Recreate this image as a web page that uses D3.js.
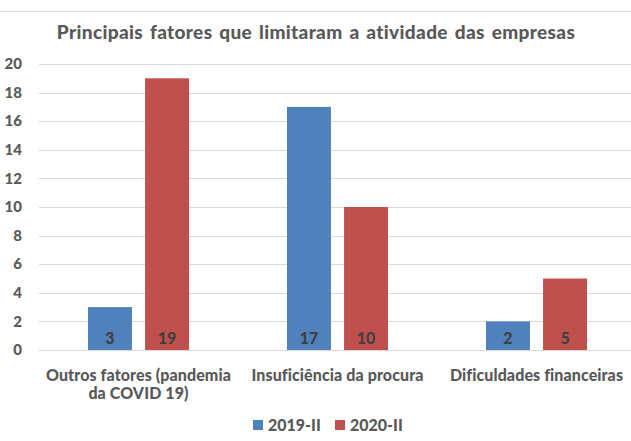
<!DOCTYPE html>
<html>
<head>
<meta charset="utf-8">
<script src="https://cdn.jsdelivr.net/npm/d3@7"></script>
<style>
  body { margin: 0; background: #fff; }
  text { font-family: Lato, "Open Sans", sans-serif; }
</style>
</head>
<body>
<div id="chart"></div>
<script>
const categories = ['Outros fatores (pandemia|da COVID 19)', 'Insuficiência da procura', 'Dificuldades financeiras']
const series = ['2019-II', '2020-II']
const values2019 = [3, 17, 2]
const values2020 = [19, 10, 5]
const yTicks = [0, 2, 4, 6, 8, 10, 12, 14, 16, 18, 20]
const colors = ['#4f81bd', '#c0504d']

const width = 631
const height = 441
const margin = { top: 64, left: 39, right: -5, bottom: 91 }

const svg = d3
  .select('#chart')
  .append('svg')
  .attr('width', width)
  .attr('height', height)

// chart border (only top edge is visible in the original)
svg
  .append('rect')
  .attr('x', -2)
  .attr('y', 11.5)
  .attr('width', width + 4)
  .attr('height', height)
  .attr('fill', 'none')
  .attr('stroke', '#d9d9d9')

svg
  .append('text')
  .text('Principais fatores que limitaram a atividade das empresas')
  .attr('x', 316)
  .attr('y', 39)
  .attr('text-anchor', 'middle')
  .style('font-size', '19px')
  .style('font-weight', '900')
  .style('letter-spacing', '0.35px')
  .style('word-spacing', '2px')
  .attr('fill', '#595959')

const x = d3
  .scaleBand()
  .domain(categories)
  .range([margin.left, width - margin.right])

const x1 = d3
  .scaleBand()
  .domain(series)
  .range([49, 150])
  .paddingInner(0.23)

const y = d3
  .scaleLinear()
  .domain([0, 20])
  .range([height - margin.bottom, margin.top])

// gridlines
svg
  .append('g')
  .selectAll('line')
  .data(yTicks)
  .enter()
  .append('line')
  .attr('x1', margin.left)
  .attr('x2', width)
  .attr('y1', d => Math.round(y(d)) + 0.5)
  .attr('y2', d => Math.round(y(d)) + 0.5)
  .attr('stroke', '#d9d9d9')

// y axis labels
svg
  .append('g')
  .selectAll('text')
  .data(yTicks)
  .enter()
  .append('text')
  .text(d => d)
  .attr('x', 22)
  .attr('y', d => y(d))
  .attr('dy', '0.35em')
  .attr('text-anchor', 'end')
  .style('font-size', '15px')
  .style('font-weight', '900')
  .attr('fill', '#595959')

const rows = categories.map((c, i) => ({
  key: c,
  values: [
    { s: series[0], v: values2019[i] },
    { s: series[1], v: values2020[i] }
  ]
}))

const groups = svg
  .append('g')
  .selectAll('g')
  .data(rows)
  .enter()
  .append('g')
  .attr('transform', d => 'translate(' + x(d.key) + ',0)')

groups
  .selectAll('rect')
  .data(d => d.values)
  .enter()
  .append('rect')
  .attr('x', d => x1(d.s))
  .attr('width', x1.bandwidth())
  .attr('y', d => y(d.v))
  .attr('height', d => y(0) - y(d.v))
  .attr('fill', (d, i) => colors[i])

groups
  .selectAll('text.val')
  .data(d => d.values)
  .enter()
  .append('text')
  .attr('class', 'val')
  .text(d => d.v)
  .attr('x', d => x1(d.s) + x1.bandwidth() / 2)
  .attr('y', y(0) - 12)
  .attr('dy', '0.35em')
  .attr('text-anchor', 'middle')
  .style('font-size', '16px')
  .style('font-weight', '900')
  .attr('fill', '#404040')

// category labels
svg
  .append('g')
  .selectAll('text')
  .data(categories)
  .enter()
  .append('text')
  .attr('x', d => x(d) + x.bandwidth() / 2)
  .attr('y', 381)
  .attr('text-anchor', 'middle')
  .style('font-size', '16px')
  .style('font-weight', '900')
  .style('letter-spacing', '0.1px')
  .attr('fill', '#595959')
  .each(function(d) {
    const t = d3.select(this)
    d.split('|').forEach((line, i) => {
      t.append('tspan')
        .attr('x', x(d) + x.bandwidth() / 2)
        .attr('dy', i === 0 ? 0 : 18)
        .text(line)
    })
  })

// legend
const legend = svg
  .append('g')
  .selectAll('g')
  .data(series)
  .enter()
  .append('g')
  .attr('transform', (d, i) => 'translate(' + (253 + i * 82) + ',425)')

legend
  .append('rect')
  .attr('x', 0)
  .attr('y', -5)
  .attr('width', 10)
  .attr('height', 10)
  .attr('fill', (d, i) => colors[i])

legend
  .append('text')
  .text(d => d)
  .attr('x', 15)
  .attr('y', 0)
  .attr('dy', '0.35em')
  .style('font-size', '16px')
  .style('font-weight', '900')
  .attr('fill', '#595959')
</script>
</body>
</html>
